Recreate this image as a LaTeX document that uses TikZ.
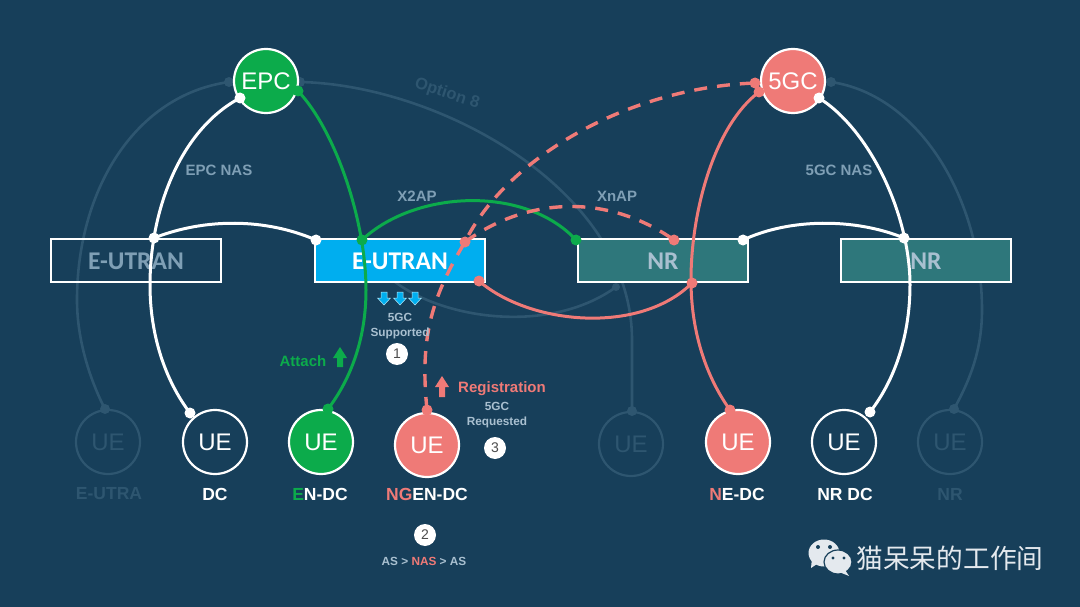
\documentclass[tikz,border=0pt]{standalone}
\usepackage{fontspec}
\setmainfont{Liberation Sans}
\newfontfamily\carl{Carlito}
\newfontfamily\cjk{Noto Sans CJK SC}
\usetikzlibrary{calc}
\definecolor{bgc}{HTML}{173F5A}
\definecolor{faintc}{HTML}{2E5670}
\definecolor{lab}{HTML}{7F9FB5}
\definecolor{lab2}{HTML}{A9C0D0}
\definecolor{bluec}{HTML}{00AEEF}
\definecolor{greenc}{HTML}{0CAB4B}
\definecolor{pinkc}{HTML}{EF7A77}
\definecolor{tealc}{HTML}{2E777B}
\definecolor{logoc}{HTML}{E4E9EE}
\newcommand{\fsz}[1]{\fontsize{#1}{#1}\selectfont}
\tikzset{
  ball/.style={circle,minimum size=64pt,inner sep=0pt,draw=white,line width=2.2pt,text=white,font=\fsz{24}},
  fball/.style={circle,minimum size=64pt,inner sep=0pt,draw=faintc,line width=2.2pt,text=faintc,font=\fsz{24}},
  box/.style={rectangle,minimum width=170pt,minimum height=43pt,inner sep=0pt,draw=white,line width=1.1pt},
  boxt/.style={font=\carl\bfseries\fsz{25.5}},
  dotn/.style={circle,minimum size=11pt,inner sep=0pt,fill=#1},
  fdot/.style={circle,minimum size=#1,inner sep=0pt,fill=faintc},
  fline/.style={draw=faintc,line width=2.6pt},
  wline/.style={draw=white,line width=3pt},
  gline/.style={draw=greenc,line width=3pt},
  pline/.style={draw=pinkc,line width=3pt},
  dline/.style={draw=pinkc,line width=3.4pt,dash pattern=on 13pt off 10pt},
  mid/.style={font=\bfseries\fsz{15},text=lab},
  tiny/.style={font=\bfseries\fsz{11.8},text=lab2,align=center},
  lbl/.style={font=\bfseries\fsz{17.5},text=white},
  num/.style={circle,fill=white,minimum size=22pt,inner sep=0pt,text=black!70,font=\fsz{14}},
}
\begin{document}
\begin{tikzpicture}[x=1pt,y=-1pt]
\useasboundingbox (0,0) rectangle (1080,607);
\fill[bgc] (0,0) rectangle (1080,607);
% anchor coordinates
\coordinate (a1) at (154,238); \coordinate (a2) at (316,240); \coordinate (a3) at (240,98);
\coordinate (a4) at (190,413); \coordinate (g1) at (298,91); \coordinate (g2) at (362,240);
\coordinate (g3) at (328,409); \coordinate (g4) at (576,240);
\coordinate (p1) at (465,242); \coordinate (p2) at (427,410); \coordinate (p3) at (755,83);
\coordinate (p4) at (674,240); \coordinate (p5) at (479,281); \coordinate (p6) at (692,283);
\coordinate (p7) at (759,92); \coordinate (p8) at (730,410);
\coordinate (w1) at (819,98); \coordinate (w2) at (904,238); \coordinate (w3) at (870,412);
\coordinate (w4) at (743,240);
\coordinate (f1) at (229,82); \coordinate (f2) at (105,409); \coordinate (f3) at (300,82);
\coordinate (f4) at (632,411); \coordinate (f5) at (831,82); \coordinate (f6) at (954,409);
\coordinate (f7) at (390,278); \coordinate (f8) at (616,287);
% faint connectors
\draw[fline] (f1) .. controls (135,95) and (77,190) .. (77,300) .. controls (77,340) and (90,380) .. (f2);
\draw[fline] (f3) .. controls (440,85) and (632,190) .. (632,340) -- (f4);
\draw[fline] (f5) .. controls (920,95) and (982,200) .. (982,310) .. controls (982,350) and (970,380) .. (f6);
\draw[fline] (f7) .. controls (440,320) and (550,335) .. (f8);
\node[fdot=10pt] (fd1) at (f2) {};
\node[fdot=10pt] (fd2) at (f4) {};
\node[fdot=10pt] (fd3) at (f6) {};
\node[fdot=10pt] (fd4) at (f1) {};
\node[fdot=10pt] (fd5) at (f3) {};
\node[fdot=10pt] (fd6) at (f5) {};
\node[fdot=8pt] (fd7) at (f8) {};
\node[font=\bfseries\fsz{16.5},text=faintc,rotate=-18] (opt) at (447,94) {Option 8};
% boxes
\node[box] (eu1) at (136,260.5) {};
\node[box,fill=bluec] (eu2) at (400,260.5) {};
\node[box,fill=tealc] (nr1) at (663,260.5) {};
\node[box,fill=tealc] (nr2) at (926,260.5) {};
\node[boxt,text=lab] (eu1t) at (136,261) {E-UTRAN};
\node[boxt,text=white] (eu2t) at (400,261) {E-UTRAN};
\node[boxt,text=lab2] (nr1t) at (663,261) {NR};
\node[boxt,text=lab2] (nr2t) at (926,261) {NR};
% connectors
\draw[wline] (a3) .. controls (180,130) and (150,210) .. (150,285) .. controls (150,335) and (165,380) .. (a4);
\draw[wline] (a1) .. controls (205,218) and (265,218) .. (a2);
\draw[gline] (g1) .. controls (335,130) and (366,220) .. (366,290) .. controls (366,340) and (350,380) .. (g3);
\draw[gline] (g2) .. controls (415,190) and (525,185) .. (g4);
\draw[dline] (p2) .. controls (420,340) and (430,300) .. (p1) .. controls (505,160) and (625,88) .. (p3);
\draw[dline] (p1) .. controls (530,195) and (610,195) .. (p4);
\draw[pline] (p5) .. controls (530,325) and (640,335) .. (p6);
\draw[pline] (p7) .. controls (715,125) and (691,210) .. (691,280) .. controls (691,330) and (705,375) .. (p8);
\draw[wline] (w1) .. controls (870,130) and (910,215) .. (910,285) .. controls (910,335) and (895,380) .. (w3);
\draw[wline] (w4) .. controls (790,218) and (855,218) .. (w2);
% balls
\node[ball,fill=greenc] (epc) at (266,81) {EPC};
\node[ball,fill=pinkc] (fgc) at (793,81) {5GC};
\node[fball] (ue1) at (108,442) {UE};
\node[ball] (ue2) at (215,442) {UE};
\node[ball,fill=greenc] (ue3) at (321,442) {UE};
\node[ball,fill=pinkc] (ue4) at (427,445) {UE};
\node[fball] (ue5) at (631,444) {UE};
\node[ball,fill=pinkc] (ue6) at (738,442) {UE};
\node[ball] (ue7) at (844,442) {UE};
\node[fball] (ue8) at (950,442) {UE};
% dots
\foreach \c/\n in {a1/da1,a2/da2,a3/da3,a4/da4,w1/dw1,w2/dw2,w3/dw3,w4/dw4}{\node[dotn=white] (\n) at (\c) {};}
\foreach \c/\n in {g1/dg1,g2/dg2,g3/dg3,g4/dg4}{\node[dotn=greenc] (\n) at (\c) {};}
\foreach \c/\n in {p1/dp1,p2/dp2,p3/dp3,p4/dp4,p5/dp5,p6/dp6,p7/dp7,p8/dp8}{\node[dotn=pinkc] (\n) at (\c) {};}
% labels
\node[mid] (l1) at (219,170) {EPC NAS};
\node[mid] (l2) at (417,196) {X2AP};
\node[mid] (l3) at (617,196) {XnAP};
\node[mid] (l4) at (839,170) {5GC NAS};
\node[lbl,text=faintc] (n1) at (109,494) {E-UTRA};
\node[lbl] (n2) at (215,494) {DC};
\node[lbl] (n3) at (320,494) {\textcolor{greenc}{E}N-DC};
\node[lbl] (n4) at (427,494) {\textcolor{pinkc}{NG}EN-DC};
\node[lbl] (n5) at (737,494) {\textcolor{pinkc}{N}E-DC};
\node[lbl] (n6) at (845,494) {NR DC};
\node[lbl,text=faintc] (n7) at (950,494) {NR};
\node[tiny] (s1) at (400,326) {5GC\\[2.5pt]Supported};
\node[tiny] (s2) at (497,415) {5GC\\[2.5pt]Requested};
\node[tiny] (s3) at (424,561) {AS > \textcolor{pinkc}{NAS} > AS};
\node[font=\bfseries\fsz{15},text=greenc] (att) at (303,361) {Attach};
\node[font=\bfseries\fsz{15},text=pinkc] (reg) at (502,389) {Registration};
\node[num] (c1) at (397,354) {1};
\node[num] (c2) at (425,535) {2};
\node[num] (c3) at (495,448) {3};
% block arrows
\fill[greenc] (340,347) -- (347,358) -- (343,358) -- (343,367) -- (337,367) -- (337,358) -- (333,358) -- cycle;
\fill[pinkc] (442,376) -- (449,387) -- (445,387) -- (445,397) -- (439,397) -- (439,387) -- (435,387) -- cycle;
\foreach \x in {384,400,415}{
  \filldraw[fill=bluec,draw=white!70!bluec,line width=.5pt,shift={(\x,0)}] (-3,292) -- (3,292) -- (3,298) -- (6.5,298) -- (0,305) -- (-6.5,298) -- (-3,298) -- cycle;
}
% logo and caption
\fill[logoc] (824,553) ellipse[x radius=15.5pt,y radius=13.5pt];
\fill[logoc] (812,558) -- (811,568) -- (820,562) -- cycle;
\filldraw[fill=logoc,draw=bgc,line width=1.2pt] (838,562) ellipse[x radius=14pt,y radius=12pt];
\fill[logoc] (845,570) -- (849,576) -- (839,572) -- cycle;
\fill[bgc] (818,547) circle[radius=2pt] (830,547) circle[radius=2pt] (833,558) circle[radius=1.7pt] (844,558) circle[radius=1.7pt];
\node[font=\cjk\fsz{26.7},text=logoc] (cap) at (950,558) {猫呆呆的工作间};
\end{tikzpicture}
\end{document}
